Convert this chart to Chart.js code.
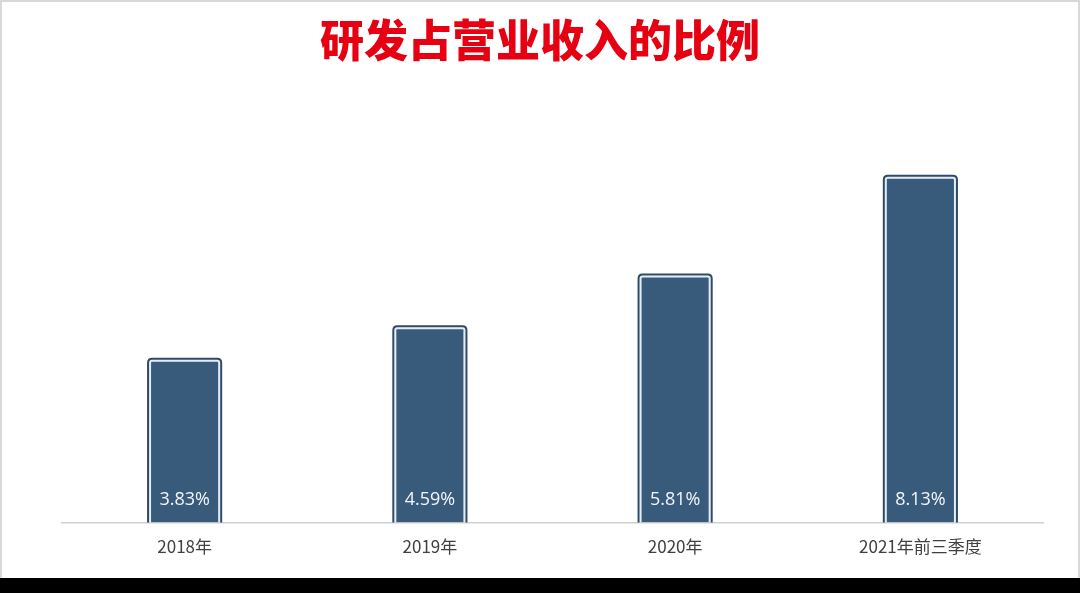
<!DOCTYPE html>
<html>
<head>
<meta charset="utf-8">
<script src="https://cdn.jsdelivr.net/npm/chart.js@4/dist/chart.umd.min.js"></script>
<style>
  html, body { margin: 0; padding: 0; background: #000; }
  #wrap { position: relative; width: 1080px; height: 578px; background: #fff; }
  #frame { position: absolute; left: 0; top: 0; right: 0; bottom: 0;
           border: 2px solid #d9d9d9; border-bottom: none; pointer-events: none; }
  canvas { display: block; }
</style>
</head>
<body>
<div id="wrap">
  <canvas id="myChart" width="1080" height="578"></canvas>
  <div id="frame"></div>
</div>
<script>
/* 研发占营业收入的比例 */

const labels = ['2018年', '2019年', '2020年', '2021年前三季度'];
const ratios = [3.83, 4.59, 5.81, 8.13];

// dark outline drawn round each bar, plus value label near the bottom
const barDecor = {
  id: 'barDecor',
  afterDatasetsDraw(chart) {
    const ctx = chart.ctx;
    const meta = chart.getDatasetMeta(0);
    meta.data.forEach(function (bar, i) {
      const p = bar.getProps(['x', 'y', 'base', 'width'], true);
      const l = p.x - p.width / 2 - 1, r = p.x + p.width / 2 + 1;
      const t = p.y - 1, b = p.base, rad = 4;
      ctx.save();
      ctx.strokeStyle = '#2e4a68';
      ctx.lineWidth = 2;
      ctx.beginPath();
      ctx.moveTo(l, b);
      ctx.lineTo(l, t + rad);
      ctx.quadraticCurveTo(l, t, l + rad, t);
      ctx.lineTo(r - rad, t);
      ctx.quadraticCurveTo(r, t, r, t + rad);
      ctx.lineTo(r, b);
      ctx.stroke();

      ctx.fillStyle = '#f4f7fa';
      ctx.font = '18px "Open Sans", "Noto Sans", sans-serif';
      ctx.textAlign = 'center';
      ctx.textBaseline = 'middle';
      ctx.fillText(ratios[i].toFixed(2) + '%', p.x, p.base - 23);
      ctx.restore();
    });
  }
};

function init() {
  const data = {
    labels: labels,
    datasets: [{
      label: '研发占比',
      data: ratios,
      backgroundColor: '#385a7b',
      borderColor: '#e4edf5',
      borderWidth: 2,
      borderRadius: 3,
      borderSkipped: 'start',
      barPercentage: 0.29,
      categoryPercentage: 1.0
    }]
  };

  new Chart(document.getElementById('myChart'), {
    type: 'bar',
    data: data,
    plugins: [barDecor],
    options: {
      responsive: false,
      animation: false,
      layout: { padding: { left: 37, right: 37, top: 0, bottom: 15 } },
      plugins: {
        legend: { display: false },
        tooltip: { enabled: false },
        title: {
          display: true,
          text: '研发占营业收入的比例',
          color: '#e60012',
          font: { family: '"Noto Sans CJK SC", sans-serif', size: 44, weight: '900' },
          padding: { top: 14, bottom: 73 }
        }
      },
      scales: {
        x: {
          grid: { display: false },
          border: { display: true, color: '#d0d0d0', width: 1.5 },
          ticks: {
            color: '#404040',
            padding: 6,
            font: { family: '"Noto Sans CJK SC", "Open Sans", sans-serif', size: 17 }
          }
        },
        y: {
          min: 0,
          max: 9,
          grid: { display: false },
          border: { display: false },
          ticks: { display: false },
          // keep an empty strip on the left so the axis starts where the original does
          afterFit(scale) { scale.width = 25; }
        }
      }
    }
  });
}

document.addEventListener('DOMContentLoaded', init, false);
</script>
</body>
</html>
